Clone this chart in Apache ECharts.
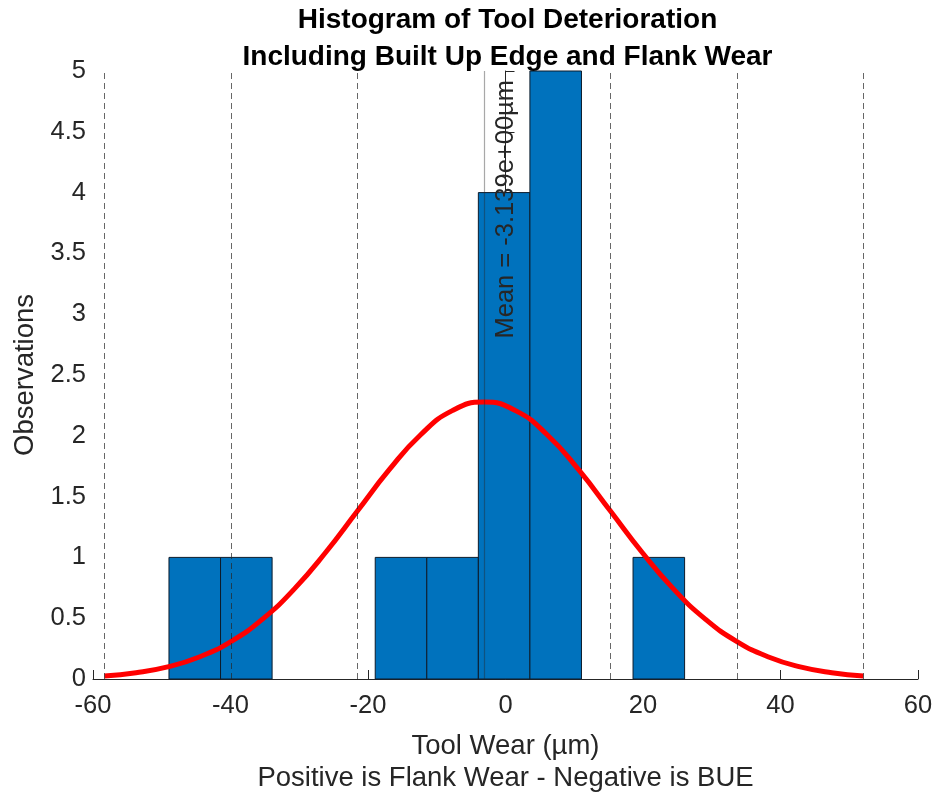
<!DOCTYPE html>
<html>
<head>
<meta charset="utf-8">
<title>Histogram of Tool Deterioration</title>
<script src="https://cdn.jsdelivr.net/npm/echarts@6/dist/echarts.min.js"></script>
<style>
  html, body { margin: 0; padding: 0; background: #ffffff; }
  #chart { width: 933px; height: 792px; }
</style>
</head>
<body>
<div id="chart"></div>
<script>
// Histogram bin edges (µm) and the observation count in each bin
const binEdges = [-48.95, -41.45, -33.95, -26.45, -18.95, -11.45, -3.95, 3.55, 11.05, 18.55, 26.05];
const binCounts = [1, 1, 0, 0, 1, 1, 4, 5, 0, 1];

// Fitted normal curve, sampled along the wear axis
const curveX = [-58.34, -53.74, -49.14, -44.54, -39.94, -35.34, -30.74, -26.14, -21.54, -16.94, -12.34, -7.74,
                -3.14, 1.46, 6.06, 10.66, 15.26, 19.86, 24.46, 29.06, 33.66, 38.26, 42.86, 47.46, 52.06];
const curveY = [0.025, 0.052, 0.100, 0.181, 0.308, 0.493, 0.739, 1.042, 1.381, 1.719, 2.009, 2.207,
                2.277, 2.207, 2.009, 1.719, 1.381, 1.042, 0.739, 0.493, 0.308, 0.181, 0.100, 0.052, 0.025];

// Mean and the ±1σ, ±2σ, ±3σ reference positions
const meanValue = -3.139;
const sigmaLines = [-58.34, -39.94, -21.54, 15.26, 33.66, 52.06];

// Axis ticks
const xTicks = { min: -60, max: 60, step: 20 };
const yTicks = { min: 0, max: 5, step: 0.5 };

const FONT = '"Liberation Sans", Arial, Helvetica, sans-serif';
const INK = '#262626';

const GRID = { left: 93, right: 15, top: 71, bottom: 113 };
const CHART_W = 933;

const histData = binCounts.map((c, i) => [binEdges[i], binEdges[i + 1], c]);
const curveData = curveX.map((x, i) => [x, curveY[i]]);

function meanLabel(v) {
  // MATLAB-style exponent, e.g. -3.139e+00
  const s = v.toExponential(3).replace(/e([+-])(\d)$/, 'e$10$2');
  return 'Mean = ' + s + 'µm';
}

const chart = echarts.init(document.getElementById('chart'), null, { renderer: 'canvas' });

const option = {
  backgroundColor: '#ffffff',
  animation: false,
  title: {
    text: 'Histogram of Tool Deterioration\nIncluding Built Up Edge and Flank Wear',
    // centred over the plotting area rather than the whole canvas
    left: (GRID.left + (CHART_W - GRID.right)) / 2 - 3,
    textAlign: 'center',
    top: -3,
    textStyle: {
      fontFamily: FONT,
      fontWeight: 'bold',
      fontSize: 28,
      lineHeight: 37,
      color: '#000000'
    }
  },
  grid: {
    left: GRID.left, right: GRID.right, top: GRID.top, bottom: GRID.bottom,
    containLabel: false,
    outerBoundsMode: 'none'
  },
  xAxis: {
    type: 'value',
    min: xTicks.min,
    max: xTicks.max,
    interval: xTicks.step,
    name: 'Tool Wear (µm)\nPositive is Flank Wear - Negative is BUE',
    nameLocation: 'middle',
    nameGap: 51,
    nameTextStyle: { fontFamily: FONT, fontSize: 27.5, lineHeight: 32, color: INK },
    axisLine: { show: true, onZero: false, lineStyle: { color: INK, width: 1 } },
    axisTick: { show: true, inside: true, length: 9, lineStyle: { color: INK } },
    axisLabel: { fontFamily: FONT, fontSize: 25.5, color: INK, margin: 14 },
    splitLine: { show: false }
  },
  yAxis: {
    type: 'value',
    min: yTicks.min,
    max: yTicks.max,
    interval: yTicks.step,
    name: 'Observations',
    nameLocation: 'middle',
    nameRotate: 90,
    nameGap: 44,
    nameTextStyle: { fontFamily: FONT, fontSize: 27.5, color: INK },
    axisLine: { show: true, lineStyle: { color: INK, width: 1 } },
    axisTick: { show: true, inside: true, length: 9, lineStyle: { color: INK } },
    axisLabel: { fontFamily: FONT, fontSize: 25.5, color: INK, margin: 7 },
    splitLine: { show: false }
  },
  series: [
    {
      name: 'Histogram',
      type: 'custom',
      silent: true,
      data: histData,
      encode: { x: [0, 1], y: 2 },
      renderItem: function (params, api) {
        const count = api.value(2);
        if (!count) return null;
        const p0 = api.coord([api.value(0), count]);
        const p1 = api.coord([api.value(1), 0]);
        return {
          type: 'rect',
          shape: { x: p0[0], y: p0[1], width: p1[0] - p0[0], height: p1[1] - p0[1] },
          style: { fill: '#0072BD', stroke: '#0d1b2a', lineWidth: 1 }
        };
      },
      z: 2
    },
    {
      name: 'Reference lines',
      type: 'line',
      data: [],
      silent: true,
      z: 3,
      markLine: {
        silent: true,
        symbol: ['none', 'none'],
        label: { show: false },
        animation: false,
        data: sigmaLines.map(v => ({
          xAxis: v,
          lineStyle: { type: [6, 4], color: 'rgba(38,38,38,0.7)', width: 1 }
        })).concat([{
          xAxis: meanValue,
          lineStyle: { type: 'solid', color: 'rgba(38,38,38,0.4)', width: 1.2 }
        }])
      }
    },
    {
      name: 'Normal fit',
      type: 'line',
      data: curveData,
      smooth: true,
      showSymbol: false,
      silent: true,
      lineStyle: { color: '#ff0000', width: 5 },
      z: 4
    }
  ]
};

chart.setOption(option);

// Rotated mean label beside the mean line, reading bottom to top
const anchor = chart.convertToPixel({ gridIndex: 0 }, [meanValue, yTicks.max]);
chart.setOption({
  graphic: [{
    type: 'text',
    x: anchor[0] + 22,
    y: anchor[1] + 9,
    rotation: Math.PI / 2,
    silent: true,
    z: 10,
    style: {
      text: meanLabel(meanValue),
      fontFamily: FONT,
      fontSize: 25.5,
      fill: INK,
      align: 'right',
      verticalAlign: 'middle'
    }
  }]
});
</script>
</body>
</html>
